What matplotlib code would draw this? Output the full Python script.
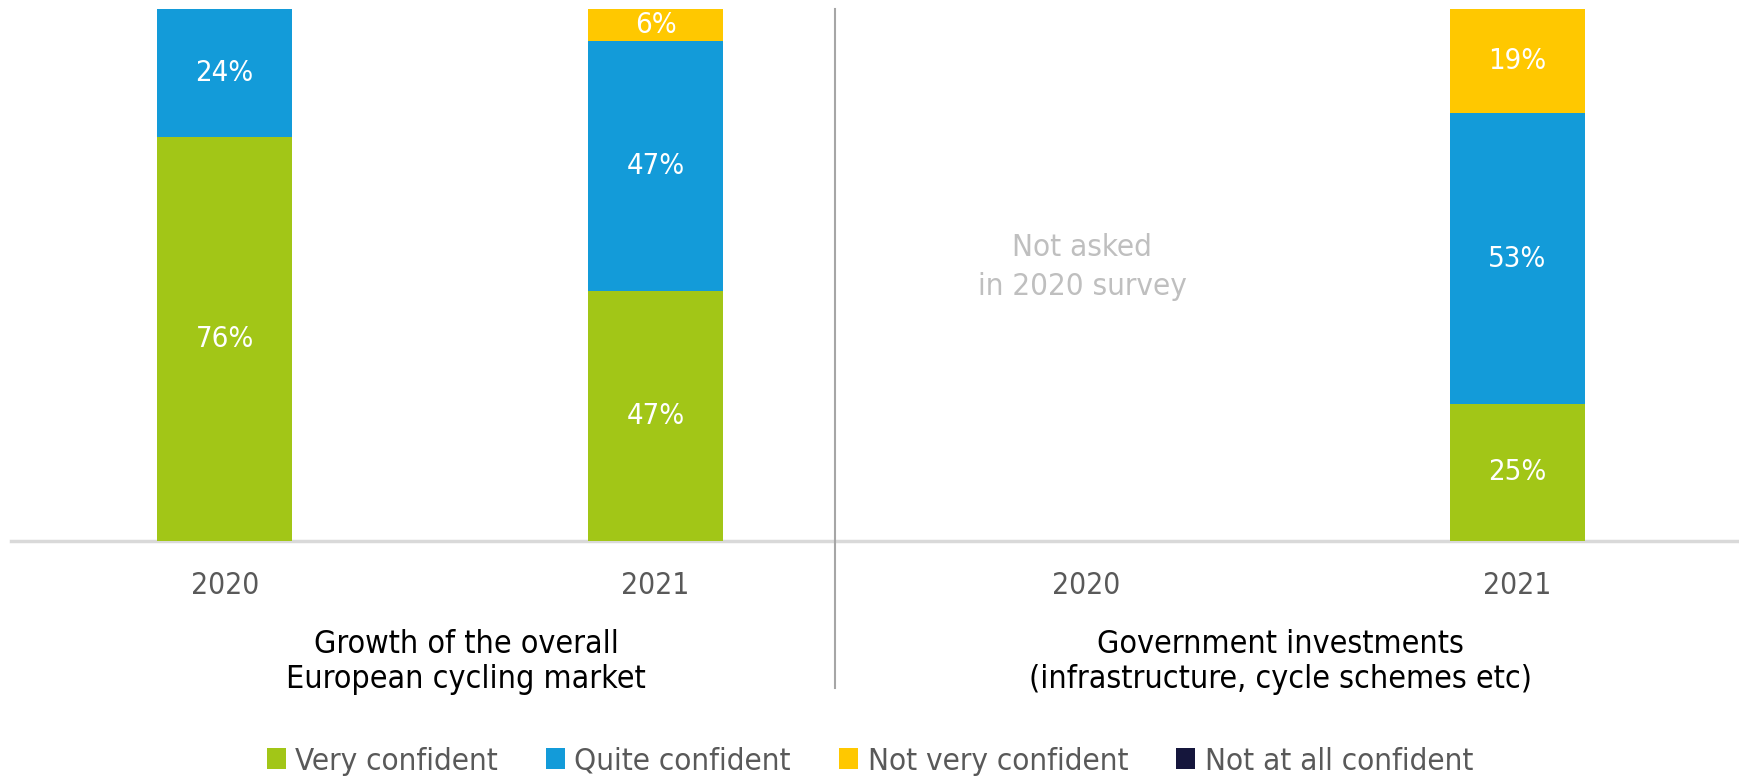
import numpy as np
import matplotlib
matplotlib.use('Agg')
import matplotlib.pyplot as plt
from matplotlib.patches import Patch
from matplotlib.transforms import blended_transform_factory

plt.rcParams['font.family'] = ['DejaVu Sans']
plt.rcParams['font.stretch'] = 'condensed'

# survey answers, one entry per bar (group 1: 2020, 2021 / group 2: 2020, 2021)
years = ['2020', '2021', '2020', '2021']
groups = ['Growth of the overall\nEuropean cycling market',
          'Government investments\n(infrastructure, cycle schemes etc)']
series = ['Very confident', 'Quite confident', 'Not very confident', 'Not at all confident']
very_confident = [76, 47, np.nan, 25]
quite_confident = [24, 47, np.nan, 53]
not_very_confident = [0, 6, np.nan, 19]
not_at_all_confident = [0, 0, np.nan, 0]
colors = ['#A2C617', '#139BD9', '#FFC800', '#15163C']

values = np.array([very_confident, quite_confident, not_very_confident, not_at_all_confident], dtype=float)
# 100% stacked columns
totals = np.nansum(values, axis=0)
totals[totals == 0] = np.nan
shares = values / totals * 100

W, H = 1739, 776
fig = plt.figure(figsize=(W / 100, H / 100), dpi=100)
ax = fig.add_axes([11 / W, 1 - 541 / H, 1728 / W, 532 / H])

x = np.arange(len(years))
bottom = np.zeros(len(years))
for i, name in enumerate(series):
    h = np.nan_to_num(shares[i])
    ax.bar(x, h, bottom=bottom, width=0.313, color=colors[i], linewidth=0)
    for xi, hi, bi, vi in zip(x, h, bottom, values[i]):
        if hi > 0:
            ax.text(xi, bi + hi / 2, '%d%%' % vi, ha='center', va='center',
                    color='white', fontsize=21)
    bottom += h

ax.set_xlim(-0.496, 3.515)
ax.set_ylim(0, 100)
ax.axis('off')
ax.axhline(0, color='#d9d9d9', lw=2.5, zorder=0, clip_on=False)

tr = blended_transform_factory(ax.transData, fig.transFigure)
for xi, yr in zip(x, years):
    ax.text(xi, 1 - 586 / H, yr, transform=tr, ha='center', va='center',
            color='#595959', fontsize=21.5)

# group labels and divider
group_x = [0.560, 2.450]
for gx, g in zip(group_x, groups):
    ax.text(gx, 1 - 662 / H, g, transform=tr, ha='center', va='center',
            color='black', fontsize=23, linespacing=1.15)
ax.plot([1.417, 1.417], [1 - 9 / H, 1 - 688 / H], transform=tr, color='#a6a6a6',
        lw=1.5, clip_on=False)

ax.text(1.99, 51.5, 'Not asked\nin 2020 survey', ha='center', va='center',
        color='#bfbfbf', fontsize=22.5, linespacing=1.4)

handles = [Patch(facecolor=c, edgecolor='none') for c in colors]
fig.legend(handles, series, loc='center', bbox_to_anchor=(870 / W, 1 - 761 / H),
           ncol=4, frameon=False, fontsize=22.5, labelcolor='#595959',
           handlelength=0.6, handleheight=0.65, handletextpad=0.3, columnspacing=1.55)

fig.savefig('out.png', dpi=100)
